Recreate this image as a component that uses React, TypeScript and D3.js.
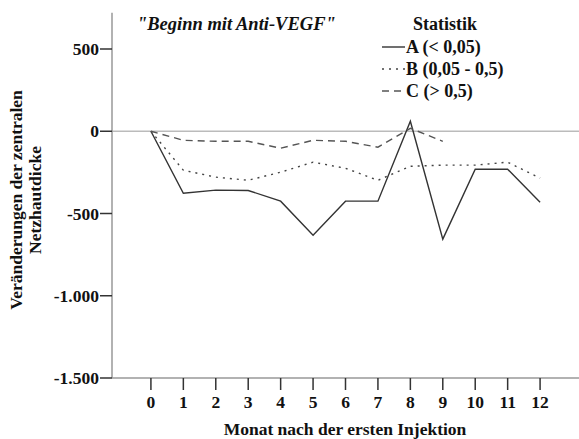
import * as d3 from 'd3'
import { useEffect, useRef } from 'react'

const MONTHS = [0, 1, 2, 3, 4, 5, 6, 7, 8, 9, 10, 11, 12]
const SERIES_A = [0, -377, -358, -360, -425, -632, -425, -425, 61, -656, -231, -231, -431]
const SERIES_B = [0, -237, -279, -298, -249, -188, -225, -298, -213, -206, -206, -188, -285]
const SERIES_C = [0, -55, -61, -61, -103, -55, -61, -97, 18, -61]
const Y_TICKS = [500, 0, -500, -1000, -1500]
const LEGEND = ['A (< 0,05)', 'B (0,05 - 0,5)', 'C (> 0,5)']

export default function App() {
  const ref = useRef<HTMLDivElement>(null)

  useEffect(() => {
    const width = 579
    const height = 439
    const font = "'Liberation Serif', 'Times New Roman', Times, 'DejaVu Serif', serif"

    const x = d3.scaleLinear().domain([-1.2, 13.2]).range([112, 579])
    const y = d3.scaleLinear().domain([-1500, 500]).range([378, 49])

    const svg = d3
      .create('svg')
      .attr('width', width)
      .attr('height', height)
      .attr('viewBox', [0, 0, width, height])
      .style('display', 'block')
      .style('background', '#fff')
      .style('position', 'fixed')
      .style('left', '0')
      .style('top', '0')
      .style('font-family', font)

    // reference line at 0
    svg
      .append('line')
      .attr('x1', x(-1.2))
      .attr('x2', width)
      .attr('y1', y(0))
      .attr('y2', y(0))
      .attr('stroke', '#bbb')
      .attr('stroke-width', 1.5)

    // y axis
    const yAxis = svg.append('g')
    yAxis
      .append('line')
      .attr('x1', x(-1.2))
      .attr('x2', x(-1.2))
      .attr('y1', y(720))
      .attr('y2', y(-1500))
      .attr('stroke', '#999')
      .attr('stroke-width', 1.5)
    yAxis
      .selectAll('line.tick')
      .data(Y_TICKS)
      .join('line')
      .attr('class', 'tick')
      .attr('x1', 100)
      .attr('x2', x(-1.2))
      .attr('y1', (d) => y(d))
      .attr('y2', (d) => y(d))
      .attr('stroke', '#333')
      .attr('stroke-width', 1.5)
    const fmt = (d: number) => String(d).replace(/(\d)(\d{3})$/, '$1.$2')
    yAxis
      .selectAll('text')
      .data(Y_TICKS)
      .join('text')
      .attr('x', 99)
      .attr('y', (d) => y(d))
      .attr('dy', '0.35em')
      .attr('text-anchor', 'end')
      .attr('font-size', 17.5)
      .attr('font-weight', 'bold')
      .attr('fill', '#111')
      .text((d) => fmt(d))

    // x axis
    const xAxis = svg.append('g')
    xAxis
      .append('line')
      .attr('x1', x(-1.2))
      .attr('x2', width)
      .attr('y1', y(-1500))
      .attr('y2', y(-1500))
      .attr('stroke', '#999')
      .attr('stroke-width', 1.5)
    xAxis
      .selectAll('line.tick')
      .data(MONTHS)
      .join('line')
      .attr('class', 'tick')
      .attr('x1', (d) => x(d))
      .attr('x2', (d) => x(d))
      .attr('y1', y(-1500))
      .attr('y2', y(-1500) + 12)
      .attr('stroke', '#333')
      .attr('stroke-width', 1.5)
    xAxis
      .selectAll('text')
      .data(MONTHS)
      .join('text')
      .attr('x', (d) => x(d))
      .attr('y', 408)
      .attr('text-anchor', 'middle')
      .attr('font-size', 17.5)
      .attr('font-weight', 'bold')
      .attr('fill', '#111')
      .text((d) => String(d))

    // axis titles
    svg
      .append('text')
      .attr('x', 345)
      .attr('y', 435)
      .attr('text-anchor', 'middle')
      .attr('font-size', 17.5)
      .attr('font-weight', 'bold')
      .attr('fill', '#111')
      .text('Monat nach der ersten Injektion')
    const yTitle = svg
      .append('text')
      .attr('transform', 'translate(22, 200) rotate(-90)')
      .attr('text-anchor', 'middle')
      .attr('font-size', 17.5)
      .attr('font-weight', 'bold')
      .attr('fill', '#111')
    yTitle.append('tspan').attr('x', 0).attr('y', 0).text('Veränderungen der zentralen')
    yTitle.append('tspan').attr('x', 0).attr('y', 19).text('Netzhautdicke')

    // lines
    const line = d3
      .line<number>()
      .x((_, i) => x(MONTHS[i]))
      .y((d) => y(d))
    const styles = [
      { data: SERIES_A, dash: null, color: '#333' },
      { data: SERIES_B, dash: '2,5', color: '#444' },
      { data: SERIES_C, dash: '7,5', color: '#555' },
    ]
    styles.forEach((s) => {
      svg
        .append('path')
        .attr('d', line(s.data))
        .attr('fill', 'none')
        .attr('stroke', s.color)
        .attr('stroke-width', 1.4)
        .attr('stroke-dasharray', s.dash)
    })

    // title
    svg
      .append('text')
      .attr('x', 137)
      .attr('y', 30)
      .attr('font-size', 18.5)
      .attr('font-weight', 'bold')
      .attr('font-style', 'italic')
      .attr('fill', '#111')
      .text('"Beginn mit Anti-VEGF"')

    // legend
    svg
      .append('text')
      .attr('x', 445)
      .attr('y', 30)
      .attr('text-anchor', 'middle')
      .attr('font-size', 18)
      .attr('font-weight', 'bold')
      .attr('fill', '#111')
      .text('Statistik')
    const lg = svg
      .append('g')
      .selectAll('g')
      .data(LEGEND)
      .join('g')
      .attr('transform', (_, i) => `translate(382, ${47 + i * 22})`)
    lg.append('line')
      .attr('x1', 0)
      .attr('x2', 23)
      .attr('stroke', (_, i) => styles[i].color)
      .attr('stroke-width', 1.4)
      .attr('stroke-dasharray', (_, i) => styles[i].dash)
    lg.append('text')
      .attr('x', 24)
      .attr('dy', '0.35em')
      .attr('font-size', 18)
      .attr('font-weight', 'bold')
      .attr('fill', '#111')
      .text((d) => d)

    const node = svg.node()
    if (ref.current && node) {
      ref.current.innerHTML = ''
      ref.current.appendChild(node)
    }
  }, [])

  return <div ref={ref} style={{ margin: -8 }} />
}
